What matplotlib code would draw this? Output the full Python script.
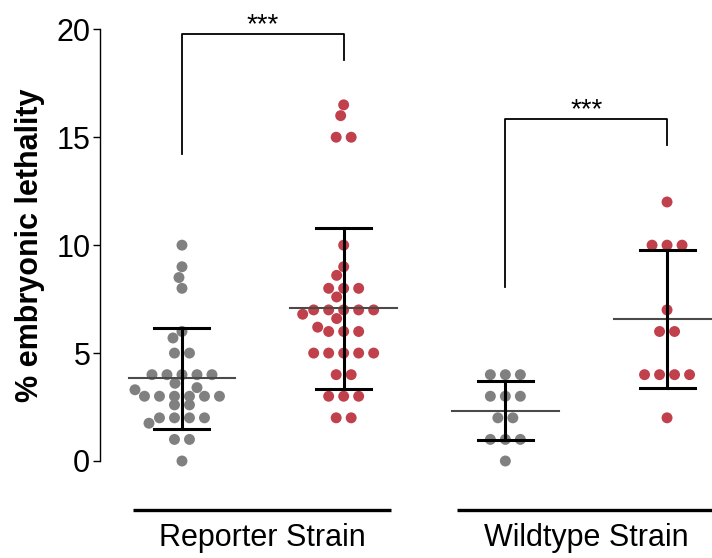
import numpy as np
import matplotlib
matplotlib.use('Agg')
import matplotlib.pyplot as plt

plt.rcParams['font.family'] = ['Liberation Sans', 'DejaVu Sans']

# values (% embryonic lethality per brood)
reporter_ctrl = [10, 9, 8.5, 8, 6, 5.7, 5, 5, 4, 4, 4, 4, 4, 3.6, 3.4, 3.3,
                 3, 3, 3, 3, 3, 3, 2.6, 2.6, 2, 2, 2, 2, 1.75, 1, 1, 0]
reporter_rnai = [16.5, 16, 15, 15, 10, 9, 8.6, 8, 8, 8, 7.6, 7, 7, 7, 7, 7,
                 6.8, 6.6, 6.2, 6, 6, 6, 5, 5, 5, 5, 5, 4, 4, 3, 3, 3, 2, 2]
wildtype_ctrl = [4, 4, 4, 3, 3, 3, 2, 2, 1, 1, 1, 0]
wildtype_rnai = [12, 10, 10, 10, 7, 6, 6, 4, 4, 4, 4, 2]

groups = [reporter_ctrl, reporter_rnai, wildtype_ctrl, wildtype_rnai]
colors = ['#808080', '#c0404b', '#808080', '#c0404b']
strain_names = ['Reporter Strain', 'Wildtype Strain']
stars = ['***', '***']

# pixel scale of the data axes, used to lay out the swarm
XPX = 161.7   # px per x unit
YPX = 21.6    # px per y unit


def swarm(vals, step=15.0, dist=11.0):
    vals = np.asarray(vals, dtype=float)
    uniq, counts = np.unique(vals, return_counts=True)
    offs = np.zeros(len(vals))
    placed = []   # (x px, y px)
    done = np.zeros(len(vals), bool)
    # rows of equal values first, centred
    for u in uniq[np.argsort(-counts, kind='stable')]:
        idx = np.where(vals == u)[0]
        if len(idx) < 2:
            continue
        n = len(idx)
        for k, i in enumerate(idx):
            offs[i] = (k - (n - 1) / 2) * step
            placed.append((offs[i], vals[i] * YPX))
            done[i] = True
    # single points: nearest free spot to the centre
    for i in np.argsort(-vals):
        if done[i]:
            continue
        y = vals[i] * YPX
        for c in sorted(np.arange(-80, 81, 1.0), key=abs):
            if all((c - px) ** 2 + (y - py) ** 2 >= dist ** 2 for px, py in placed):
                offs[i] = c
                break
        placed.append((offs[i], y))
    return offs / XPX


fig = plt.figure(figsize=(7.12, 5.58), dpi=100)
ax = fig.add_axes([100 / 712, 97 / 558, 612 / 712, 431.7 / 558])

pos = [1, 2, 3, 4]
for p, vals, col in zip(pos, groups, colors):
    x = p + swarm(vals)
    ax.scatter(x, vals, s=62, color=col, edgecolors='none', zorder=2,
               clip_on=False)
    m = np.mean(vals)
    sd = np.std(vals, ddof=1)
    ax.plot([p - 0.33, p + 0.33], [m, m], color='#4a4a4a', lw=1.5, zorder=3)
    ax.plot([p, p], [m - sd, m + sd], color='black', lw=2.2, zorder=4)
    for e in (m - sd, m + sd):
        ax.plot([p - 0.17, p + 0.17], [e, e], color='black', lw=2.2, zorder=4)

# significance brackets
brackets = [(1, 2, 14.2, 19.8, 18.6), (3, 4, 8.07, 15.86, 14.63)]
for (a, b, ya, top, yb), st in zip(brackets, stars):
    ax.plot([a, a, b, b], [ya, top, top, yb], color='black', lw=1.3,
            clip_on=False)
    ax.text((a + b) / 2, top + 0.05, st, ha='center', va='baseline',
            fontsize=20)

# strain underlines and labels
for k, name in enumerate(strain_names):
    c = 1.5 + 2 * k
    ax.plot([c - 0.8, c + 0.79], [-2.27, -2.27], color='black', lw=2.4,
            clip_on=False, solid_capstyle='butt')
    ax.text(c, -3.56, name, ha='center', va='center', fontsize=22)

ax.set_xlim(0.493, 4.278)
ax.set_ylim(0, 20)
ax.set_yticks([0, 5, 10, 15, 20])
ax.tick_params(axis='y', labelsize=22, length=5, width=1, pad=2)
ax.set_xticks([])
for s in ['top', 'right', 'bottom']:
    ax.spines[s].set_visible(False)
ax.spines['left'].set_linewidth(1)
ax.set_ylabel('% embryonic lethality', fontsize=22, fontweight='bold',
              labelpad=8)

fig.savefig('out.png', dpi=100)
